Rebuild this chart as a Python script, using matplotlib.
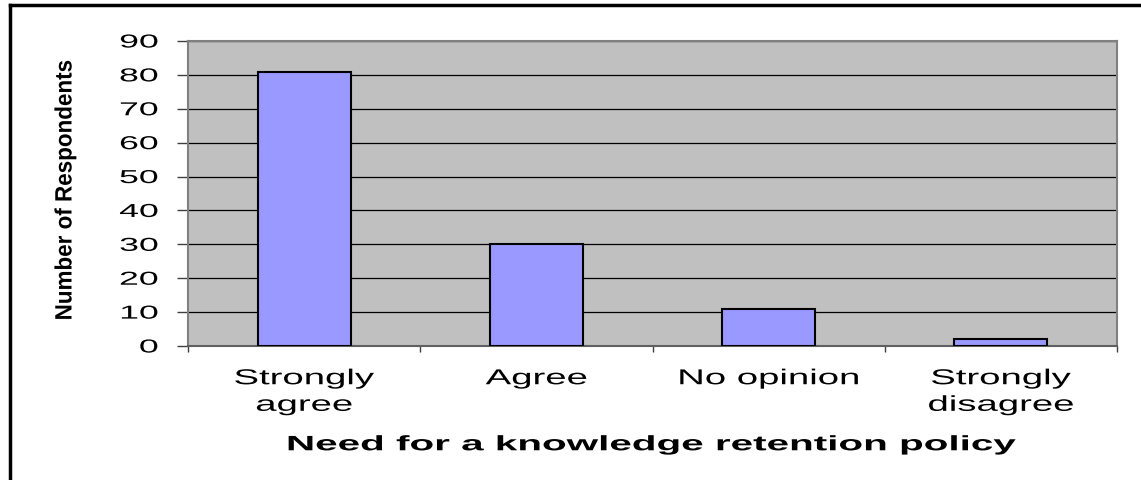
import matplotlib
matplotlib.use("Agg")
import matplotlib.pyplot as plt
from matplotlib.lines import Line2D
from matplotlib.patheffects import AbstractPathEffect
from matplotlib.transforms import Affine2D

categories = ["Strongly\nagree", "Agree", "No opinion", "Strongly\ndisagree"]
values = [81, 30, 11, 2]
yticks = [0, 10, 20, 30, 40, 50, 60, 70, 80, 90]

plt.rcParams['font.family'] = ['Liberation Sans', 'DejaVu Sans']


class HStretch(AbstractPathEffect):
    """Stretch text glyphs along the reading direction (text stays a Text artist)."""
    def __init__(self, sx, anchor='center'):
        super().__init__()
        self.sx = sx
        self.anchor = anchor

    def draw_path(self, renderer, gc, tpath, affine, rgbFace=None):
        ext = tpath.get_extents()
        if self.anchor == 'right':
            cx = ext.x1
        elif self.anchor == 'left':
            cx = ext.x0
        else:
            cx = (ext.x0 + ext.x1) / 2
        t = Affine2D().translate(-cx, 0).scale(self.sx, 1).translate(cx, 0) + affine
        renderer.draw_path(gc, tpath, t, rgbFace)


fig = plt.figure(figsize=(11.41, 4.81), dpi=100)
ax = fig.add_axes([188/1141, 1-347/481, (1117-188)/1141, (347-42)/481])
ax.set_facecolor('#C0C0C0')

x = list(range(len(categories)))
ax.bar(x, values, width=0.4, color='#9999FF', edgecolor='black', linewidth=1.5, zorder=3)

ax.set_xlim(-0.5, len(categories)-0.5)
ax.set_ylim(0, 90)
ax.set_yticks(yticks)
ax.set_yticklabels([str(t) for t in yticks], fontsize=13.5)
for lab in ax.get_yticklabels():
    lab.set_path_effects([HStretch(1.9, 'right')])
ax.yaxis.grid(True, color='black', linewidth=0.9, zorder=1)
ax.set_axisbelow(True)
ax.tick_params(axis='y', length=8, width=1, color='#404040', pad=13.5)

ax.set_xticks([-0.5] + [i + 0.5 for i in x])
ax.set_xticklabels([''] * (len(x) + 1))
ax.tick_params(axis='x', length=4, width=1, color='#404040')
ax.set_xticks(x, minor=True)
ax.set_xticklabels(categories, minor=True, fontsize=15.5, linespacing=1.35)
for lab in ax.get_xticklabels(minor=True):
    lab.set_path_effects([HStretch(1.78, 'center')])
ax.tick_params(axis='x', which='minor', length=0, pad=16)

for s in ['left', 'top', 'right']:
    ax.spines[s].set_color('#808080')
    ax.spines[s].set_linewidth(1.5)
ax.spines['bottom'].set_color('#606060')
ax.spines['bottom'].set_linewidth(1.5)

xl = ax.set_xlabel('Need for a knowledge retention policy', fontsize=15, fontweight='bold', labelpad=14)
xl.set_path_effects([HStretch(1.94, 'center')])
yl = fig.text(65/1141, 1-191/481, 'Number of Respondents', rotation=90, fontsize=17,
              fontweight='bold', ha='center', va='center')
yl.set_path_effects([HStretch(0.95, 'center')])

# figure frame (left and top)
fig.add_artist(Line2D([10/1141, 10/1141], [0, 1-6/481], transform=fig.transFigure, color='black', linewidth=2.5))
fig.add_artist(Line2D([10/1141, 1], [1-6/481, 1-6/481], transform=fig.transFigure, color='black', linewidth=2.5))

fig.savefig('out.png', dpi=100)
